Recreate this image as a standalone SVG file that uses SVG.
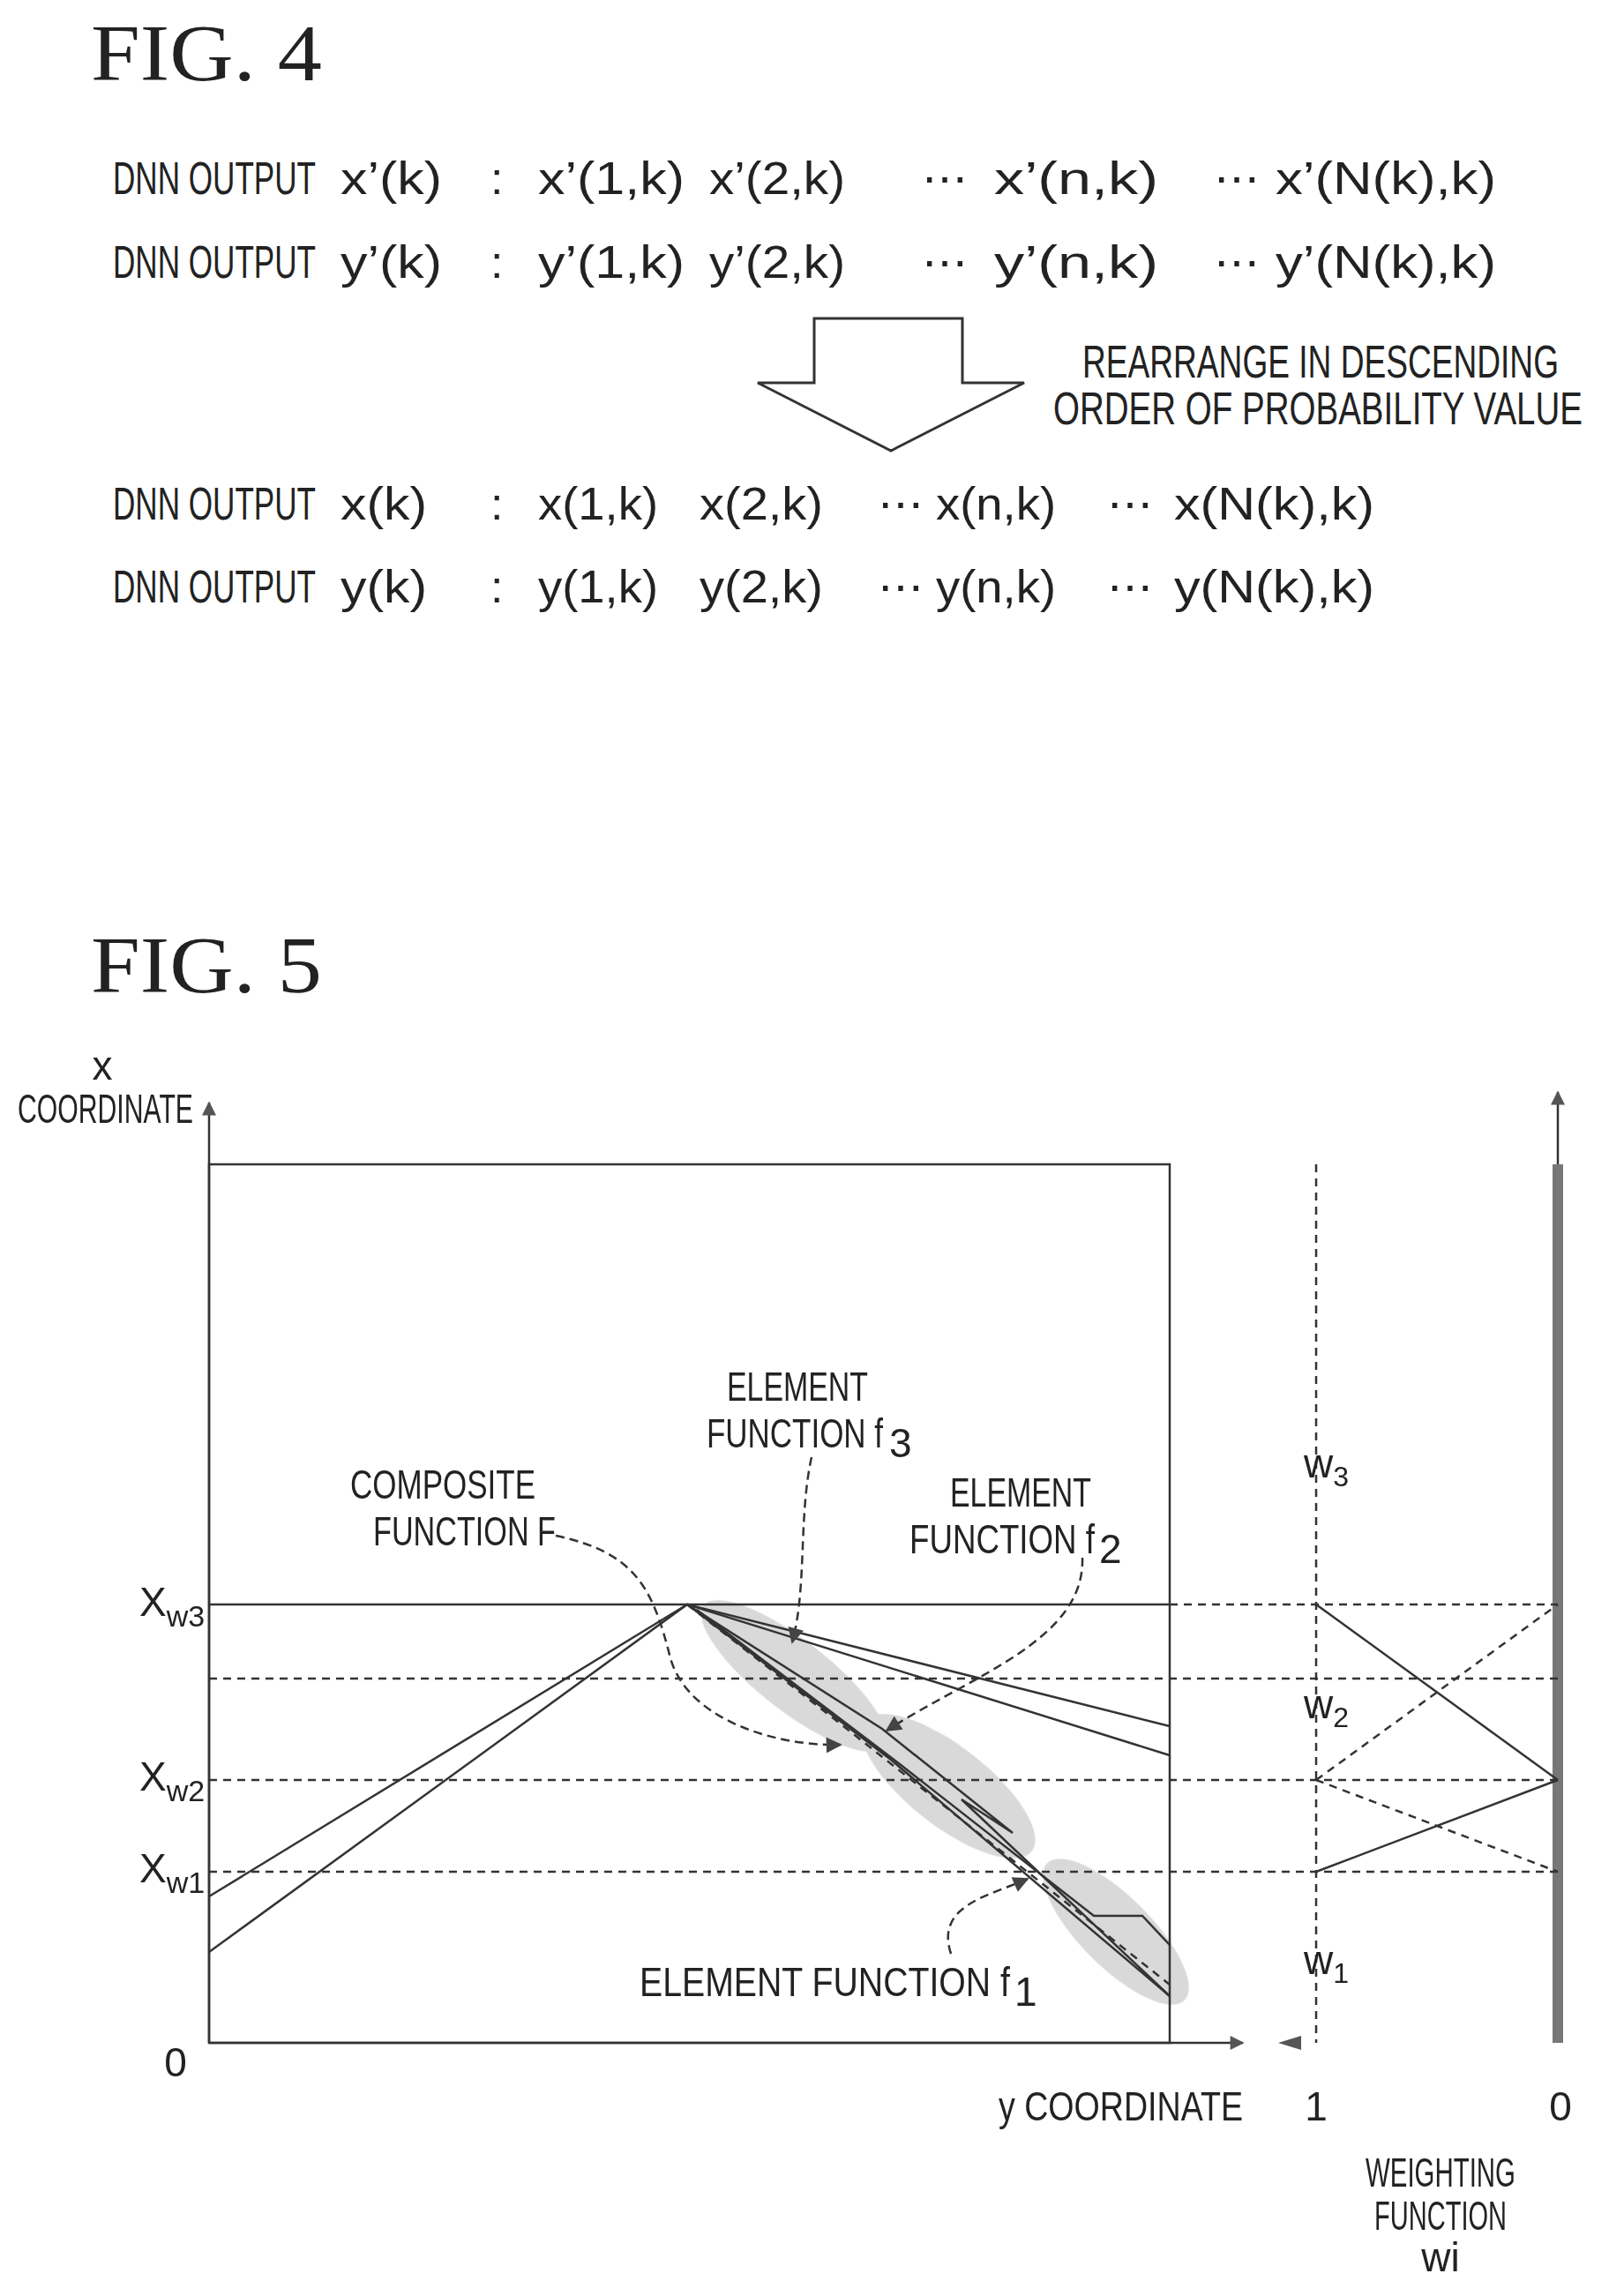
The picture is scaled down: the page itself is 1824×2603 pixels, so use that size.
<svg xmlns="http://www.w3.org/2000/svg" width="1824" height="2603" viewBox="0 0 1824 2603">
<style>
text{font-family:"Liberation Sans",Arial,sans-serif;fill:#222}
.r{font-size:52px}
.c{font-size:46px}
.fig{font-family:"Liberation Serif","Times New Roman",serif;font-size:90px}
.ln{stroke:#333;stroke-width:2.5;fill:none}
.dash{stroke:#333;stroke-width:2.5;fill:none;stroke-dasharray:9 7}
.lead{stroke:#333;stroke-width:2.5;fill:none;stroke-dasharray:10 6}
</style>
<defs>
<marker id="ah" viewBox="0 0 10 10" refX="9" refY="5" markerWidth="22" markerHeight="18" orient="auto" markerUnits="userSpaceOnUse"><path d="M0,0 L10,5 L0,10 z" fill="#444"/></marker>
<marker id="ax" viewBox="0 0 10 10" refX="9" refY="5" markerWidth="22" markerHeight="16" orient="auto" markerUnits="userSpaceOnUse"><path d="M0,0 L10,5 L0,10 z" fill="#555"/></marker>
</defs>

<g id="fig4">
<text class="fig" x="103" y="91" textLength="262" lengthAdjust="spacingAndGlyphs">FIG. 4</text>
<text class="r" x="128" y="220" textLength="230" lengthAdjust="spacingAndGlyphs">DNN OUTPUT</text>
<text class="r" x="386" y="220" textLength="115" lengthAdjust="spacingAndGlyphs">x’(k)</text><text class="r" x="556" y="220">:</text>
<text class="r" x="610" y="220" textLength="166" lengthAdjust="spacingAndGlyphs">x’(1,k)</text><text class="r" x="804" y="220" textLength="154" lengthAdjust="spacingAndGlyphs">x’(2,k)</text><text class="r" x="1045" y="220">⋯</text>
<text class="r" x="1127" y="220" textLength="186" lengthAdjust="spacingAndGlyphs">x’(n,k)</text><text class="r" x="1376" y="220">⋯</text><text class="r" x="1446" y="220" textLength="250" lengthAdjust="spacingAndGlyphs">x’(N(k),k)</text>
<text class="r" x="128" y="315" textLength="230" lengthAdjust="spacingAndGlyphs">DNN OUTPUT</text>
<text class="r" x="386" y="315" textLength="115" lengthAdjust="spacingAndGlyphs">y’(k)</text><text class="r" x="556" y="315">:</text>
<text class="r" x="610" y="315" textLength="166" lengthAdjust="spacingAndGlyphs">y’(1,k)</text><text class="r" x="804" y="315" textLength="154" lengthAdjust="spacingAndGlyphs">y’(2,k)</text><text class="r" x="1045" y="315">⋯</text>
<text class="r" x="1127" y="315" textLength="186" lengthAdjust="spacingAndGlyphs">y’(n,k)</text><text class="r" x="1376" y="315">⋯</text><text class="r" x="1446" y="315" textLength="250" lengthAdjust="spacingAndGlyphs">y’(N(k),k)</text>
<g id="arrow4"><path d="M923,361 H1091 V434 H1161 L1010,511 L859,434 H923 Z" fill="none" stroke="#333" stroke-width="3"/></g>
<text class="r" x="1227" y="428" font-size="46" textLength="540" lengthAdjust="spacingAndGlyphs">REARRANGE IN DESCENDING</text>
<text class="r" x="1194" y="481" font-size="46" textLength="600" lengthAdjust="spacingAndGlyphs">ORDER OF PROBABILITY VALUE</text>
<text class="r" x="128" y="589" textLength="230" lengthAdjust="spacingAndGlyphs">DNN OUTPUT</text>
<text class="r" x="386" y="589" textLength="98" lengthAdjust="spacingAndGlyphs">x(k)</text><text class="r" x="556" y="589">:</text>
<text class="r" x="610" y="589" textLength="136" lengthAdjust="spacingAndGlyphs">x(1,k)</text><text class="r" x="793" y="589" textLength="140" lengthAdjust="spacingAndGlyphs">x(2,k)</text><text class="r" x="995" y="589">⋯</text>
<text class="r" x="1061" y="589" textLength="136" lengthAdjust="spacingAndGlyphs">x(n,k)</text><text class="r" x="1255" y="589">⋯</text><text class="r" x="1331" y="589" textLength="227" lengthAdjust="spacingAndGlyphs">x(N(k),k)</text>
<text class="r" x="128" y="683" textLength="230" lengthAdjust="spacingAndGlyphs">DNN OUTPUT</text>
<text class="r" x="386" y="683" textLength="98" lengthAdjust="spacingAndGlyphs">y(k)</text><text class="r" x="556" y="683">:</text>
<text class="r" x="610" y="683" textLength="136" lengthAdjust="spacingAndGlyphs">y(1,k)</text><text class="r" x="793" y="683" textLength="140" lengthAdjust="spacingAndGlyphs">y(2,k)</text><text class="r" x="995" y="683">⋯</text>
<text class="r" x="1061" y="683" textLength="136" lengthAdjust="spacingAndGlyphs">y(n,k)</text><text class="r" x="1255" y="683">⋯</text><text class="r" x="1331" y="683" textLength="227" lengthAdjust="spacingAndGlyphs">y(N(k),k)</text>
</g>

<g id="fig5">
<text class="fig" x="103" y="1125" textLength="262" lengthAdjust="spacingAndGlyphs">FIG. 5</text>
<g fill="#bbb" opacity="0.55">
<ellipse cx="900" cy="1900" rx="130" ry="40" transform="rotate(38 900 1900)"/>
<ellipse cx="1075" cy="2025" rx="120" ry="45" transform="rotate(38 1075 2025)"/>
<ellipse cx="1265" cy="2190" rx="110" ry="40" transform="rotate(45 1265 2190)"/>
</g>
<g id="axes">
<line class="ln" x1="237" y1="2316" x2="237" y2="1250" marker-end="url(#ax)"/>
<line class="ln" x1="237" y1="2316" x2="1409" y2="2316" marker-end="url(#ax)"/>
<path d="M1475,2308 L1449,2316 L1475,2324 Z" fill="#555"/>
<rect x="237" y="1320" width="1089" height="996" class="ln"/>
<line class="dash" x1="1492" y1="1320" x2="1492" y2="2316"/>
<line class="ln" x1="1766" y1="2316" x2="1766" y2="1238" marker-end="url(#ax)"/>
<line x1="1766" y1="1320" x2="1766" y2="2316" stroke="#777" stroke-width="12"/>
</g>
<g id="levels">
<line class="ln" x1="237" y1="1819" x2="1326" y2="1819"/>
<line class="dash" x1="1326" y1="1819" x2="1766" y2="1819"/>
<line class="dash" x1="237" y1="1903" x2="1766" y2="1903"/>
<line class="dash" x1="237" y1="2018" x2="1766" y2="2018"/>
<line class="dash" x1="237" y1="2122" x2="1766" y2="2122"/>
</g>
<g id="functions">
<polyline class="ln" points="237,2150 779,1819 1326,1957"/>
<polyline class="ln" points="237,2213 779,1819 1326,1990"/>
<polyline class="ln" points="779,1819 1000,1960 1148,2078 1090,2040 1326,2263"/>
<polyline class="ln" stroke-width="4" points="779,1819 1010,1995 1326,2263"/>
<polyline class="ln" points="790,1825 1020,2000 1240,2172 1295,2172 1326,2205"/>
<polyline class="dash" points="779,1819 960,1960 1326,2250"/>
</g>
<g id="weights">
<line class="ln" x1="1492" y1="1819" x2="1766" y2="2018"/>
<line class="dash" stroke-width="4" x1="1492" y1="2018" x2="1766" y2="1819"/>
<line class="ln" x1="1492" y1="2122" x2="1766" y2="2018"/>
<line class="dash" stroke-width="4" x1="1492" y1="2018" x2="1766" y2="2122"/>
</g>
<g id="connectors">
<path class="lead" d="M630,1741 C720,1760 740,1800 760,1880 C780,1950 880,1980 953,1978" marker-end="url(#ah)"/>
<path class="lead" d="M920,1652 C905,1720 915,1800 898,1862" marker-end="url(#ah)"/>
<path class="lead" d="M1227,1766 C1230,1860 1100,1900 1005,1962" marker-end="url(#ah)"/>
<path class="lead" d="M1078,2215 C1060,2160 1120,2150 1165,2130" marker-end="url(#ah)"/>
</g>
<g id="labels">
<text class="c" x="116" y="1224" text-anchor="middle">x</text>
<text class="c" x="20" y="1273" textLength="199" lengthAdjust="spacingAndGlyphs">COORDINATE</text>
<text class="c" x="158" y="1832" font-size="50">X<tspan font-size="34" dy="12">w3</tspan></text>
<text class="c" x="158" y="2030" font-size="50">X<tspan font-size="34" dy="12">w2</tspan></text>
<text class="c" x="158" y="2134" font-size="50">X<tspan font-size="34" dy="12">w1</tspan></text>
<text class="c" x="199" y="2354" text-anchor="middle">0</text>
<text class="c" x="1132" y="2404" textLength="277" lengthAdjust="spacingAndGlyphs">y COORDINATE</text>
<text class="c" x="1492" y="2404" text-anchor="middle">1</text>
<text class="c" x="1769" y="2404" text-anchor="middle">0</text>
<text class="c" x="1633" y="2479" text-anchor="middle" textLength="170" lengthAdjust="spacingAndGlyphs">WEIGHTING</text>
<text class="c" x="1633" y="2528" text-anchor="middle" textLength="150" lengthAdjust="spacingAndGlyphs">FUNCTION</text>
<text class="c" x="1633" y="2575" text-anchor="middle">wi</text>
<text class="c" x="1478" y="1675">w<tspan font-size="32" dy="10">3</tspan></text>
<text class="c" x="1478" y="1948">w<tspan font-size="32" dy="10">2</tspan></text>
<text class="c" x="1478" y="2238">w<tspan font-size="32" dy="10">1</tspan></text>
<text class="c" x="904" y="1588" text-anchor="middle" textLength="160" lengthAdjust="spacingAndGlyphs">ELEMENT</text>
<text class="c" x="801" y="1641" textLength="200" lengthAdjust="spacingAndGlyphs">FUNCTION f</text><text class="c" x="1008" y="1652" font-size="32">3</text>
<text class="c" x="502" y="1699" text-anchor="middle" textLength="210" lengthAdjust="spacingAndGlyphs">COMPOSITE</text>
<text class="c" x="423" y="1752" textLength="207" lengthAdjust="spacingAndGlyphs">FUNCTION F</text>
<text class="c" x="1157" y="1708" text-anchor="middle" textLength="160" lengthAdjust="spacingAndGlyphs">ELEMENT</text>
<text class="c" x="1031" y="1761" textLength="210" lengthAdjust="spacingAndGlyphs">FUNCTION f</text><text class="c" x="1246" y="1772" font-size="32">2</text>
<text class="c" x="725" y="2263" textLength="420" lengthAdjust="spacingAndGlyphs">ELEMENT FUNCTION f</text><text class="c" x="1150" y="2274" font-size="32">1</text>
</g>
</g>
</svg>
